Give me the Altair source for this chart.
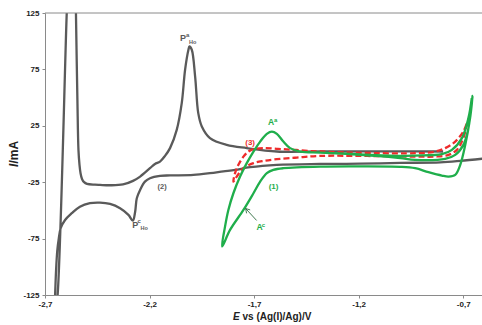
import altair as alt
import pandas as pd

# Curve (2): holmium CV (gray), in scan order
gray_E = [-0.609, -0.714, -0.810, -1.001, -1.193, -1.384, -1.591, -1.719, -1.791, -1.847,
          -1.911, -1.990, -2.102, -2.150, -2.198, -2.222, -2.245, -2.261, -2.269, -2.280,
          -2.301, -2.341, -2.389, -2.437, -2.485, -2.533, -2.572, -2.604, -2.625, -2.635,
          -2.641, -2.647, -2.652, -2.656,
          -2.650, -2.640, -2.596, -2.592,
          -2.553, -2.552, -2.545, -2.540, -2.535, -2.530, -2.523, -2.513, -2.499, -2.461,
          -2.437, -2.389, -2.327, -2.279, -2.245, -2.198, -2.174, -2.150, -2.126, -2.102,
          -2.070, -2.046, -2.030, -2.014, -2.009, -1.998, -1.982, -1.967, -1.950, -1.911,
          -1.831, -1.735, -1.591, -1.384, -1.001, -0.796]
gray_I = [-4.2, -6.1, -7.4, -7.9, -8.6, -8.8, -9.6, -11.7, -14.1, -15.4,
          -17.0, -18.5, -19.0, -19.4, -21.5, -24.5, -31.8, -39.2, -51.4, -59.1,
          -54.0, -48.1, -44.3, -43.1, -43.6, -46.7, -52.5, -58.5, -65.8, -76.2,
          -85.1, -102.8, -126.0, -140.0,
          -140.0, -126.0, 125.0, 140.0,
          140.0, 125.0, 48.0, 3.7, -9.6, -17.0, -22.1, -25.0, -26.5, -27.2,
          -27.4, -27.7, -27.0, -23.8, -20.0, -12.6, -8.8, -6.7, -1.7, 5.2,
          21.4, 45.1, 74.7, 92.4, 95.4, 92.4, 68.7, 36.2, 24.4, 14.1,
          8.1, 5.2, 2.2, 2.2, 2.4, 2.2]

# Curve (1): green CV
green_E = [-1.250, -1.120, -1.001, -0.930, -0.786, -0.738, -0.699, -0.675, -0.655,
           -0.667, -0.690, -0.714, -0.738, -0.770, -0.802, -0.866, -0.930, -1.001,
           -1.193, -1.384, -1.560, -1.608, -1.639, -1.671, -1.703, -1.751, -1.815, -1.853,
           -1.839, -1.823, -1.799, -1.767, -1.735, -1.703, -1.671, -1.639, -1.615, -1.591,
           -1.560, -1.528, -1.480, -1.384, -1.193, -1.001, -0.930, -0.802, -0.754, -0.706,
           -0.675, -0.659]
green_I = [0.0, -1.6, -3.6, -5.2, -4.3, -0.8, 8.1, 22.9, 51.6,
           31.8, 8.1, -9.6, -18.5, -20.0, -19.1, -16.1, -12.6, -11.4,
           -11.0, -11.2, -12.6, -14.1, -17.0, -24.5, -34.8, -49.6, -67.3, -82.0,
           -64.4, -49.6, -34.8, -20.0, -8.1, 2.2, 11.0, 17.9, 19.9, 17.9,
           11.0, 5.2, 2.2, 1.3, -0.3, -1.7, -1.4, -0.2, 3.7, 14.1,
           31.8, 49.6]

# Curve (3): red dashed CV
red_E = [-0.682, -0.690, -0.706, -0.730, -0.770, -0.834, -0.930, -1.384, -1.496, -1.591,
         -1.655, -1.703, -1.751, -1.783, -1.799,
         -1.791, -1.775, -1.751, -1.727, -1.703, -1.655, -1.591, -1.512, -1.384, -0.930,
         -0.834, -0.786, -0.738, -0.699, -0.682]
red_I = [27.4, 19.9, 11.0, 3.7, -0.8, -2.3, -2.3, -1.7, -3.2, -4.6,
         -6.1, -8.1, -12.6, -20.0, -24.5,
         -17.0, -9.6, -2.3, 2.2, 4.3, 5.2, 4.6, 3.7, 2.2, 0.7,
         2.2, 5.2, 11.0, 19.9, 27.4]

x_ticks = [-2.7, -2.2, -1.7, -1.2, -0.7]
y_ticks = [125, 75, 25, -25, -75, -125]

GRAY = "#5a5a5a"
GREEN = "#1fae4b"
RED = "#ee2b2b"
AXIS = "#8a8a8a"
FONT = "Liberation Sans"

# Peak / curve annotations
label_text = ["P", "a", "Ho", "P", "c", "Ho", "(2)", "A", "a", "(3)", "(1)", "A", "c"]
label_E = [-2.040, -2.018, -1.994, -2.268, -2.250, -2.226, -2.140, -1.619, -1.597,
           -1.719, -1.607, -1.674, -1.655]
label_I = [103.1, 105.3, 99.5, -62.5, -59.8, -65.6, -29.2, 28.1, 30.3,
           9.4, -29.2, -65.1, -62.5]
label_color = [GRAY, GRAY, GRAY, GRAY, GRAY, GRAY, GRAY, GREEN, GREEN,
               RED, GREEN, GREEN, GREEN]
label_size = [9, 6, 5.5, 9, 6, 5.5, 7.5, 8.5, 6, 8, 8, 8.5, 6]

# Arrow pointing at the A^c wave
arrow_E = [-1.688, -1.7359, -1.7187]
arrow_I = [-58.9, -52.6, -49.6]
arrow_tip_E = -1.7406
arrow_tip_I = -48.3


def curve(E, I, name):
    return pd.DataFrame({"E": E, "I": I, "order": range(len(E)), "curve": name})


x_scale = alt.Scale(domain=[-2.7, -0.61], nice=False, zero=False)
y_scale = alt.Scale(domain=[-125, 125], nice=False, zero=False)

x_axis = alt.Axis(values=x_ticks, title=None, grid=False,
                  labelExpr="replace(toString(datum.value), '.', ',')",
                  labelFont=FONT, labelFontSize=8, labelFontWeight="bold",
                  labelColor="#222", domainColor=AXIS, tickColor=AXIS,
                  tickSize=3, labelPadding=2, labelFlush=False)
y_axis = alt.Axis(values=y_ticks, title=None, grid=False,
                  labelExpr="toString(datum.value)",
                  labelFont=FONT, labelFontSize=8, labelFontWeight="bold",
                  labelColor="#222", domainColor=AXIS, tickColor=AXIS,
                  tickSize=3, labelPadding=3, labelFlush=False)

X = alt.X("E:Q", scale=x_scale, axis=x_axis)
Y = alt.Y("I:Q", scale=y_scale, axis=y_axis)

gray_line = alt.Chart(curve(gray_E, gray_I, "2")).mark_line(
    color=GRAY, strokeWidth=2.3, clip=True, interpolate="catmull-rom"
).encode(x=X, y=Y, order="order:Q")

red_line = alt.Chart(curve(red_E, red_I, "3")).mark_line(
    color=RED, strokeWidth=2.3, strokeDash=[6, 3], clip=True, interpolate="catmull-rom"
).encode(x=X, y=Y, order="order:Q")

green_line = alt.Chart(curve(green_E, green_I, "1")).mark_line(
    color=GREEN, strokeWidth=2.3, clip=True, interpolate="catmull-rom"
).encode(x=X, y=Y, order="order:Q")

top_border = alt.Chart(pd.DataFrame({"I": [125]})).mark_rule(
    color=AXIS, strokeWidth=1
).encode(y=Y)

labels = alt.Chart(pd.DataFrame({
    "E": label_E, "I": label_I, "text": label_text,
    "color": label_color, "size": label_size,
})).mark_text(font=FONT, fontWeight="bold", baseline="middle", align="center").encode(
    x=X, y=Y,
    text="text:N",
    color=alt.Color("color:N", scale=None),
    size=alt.Size("size:Q", scale=None),
)

arrow_df = pd.DataFrame({
    "E": arrow_E, "I": arrow_I,
    "E2": [arrow_tip_E] * 3, "I2": [arrow_tip_I] * 3,
})
arrow = alt.Chart(arrow_df).mark_rule(color="#2e6b3e", strokeWidth=0.9).encode(
    x=X, y=Y, x2="E2:Q", y2="I2:Q",
)

one = pd.DataFrame({"k": [0]})
title_style = dict(font=FONT, fontWeight="bold", color="#222", baseline="middle", align="left")
x_title_E = alt.Chart(one).mark_text(text="E", fontStyle="italic", fontSize=10, **title_style).encode(
    x=alt.value(188), y=alt.value(304))
x_title_rest = alt.Chart(one).mark_text(text="vs (Ag(I)/Ag)/V", fontSize=10, **title_style).encode(
    x=alt.value(197.5), y=alt.value(304))
y_title_I = alt.Chart(one).mark_text(text="I", fontStyle="italic", fontSize=12, angle=270, **title_style).encode(
    x=alt.value(-31), y=alt.value(154))
y_title_rest = alt.Chart(one).mark_text(text="/mA", fontSize=12, angle=270, **title_style).encode(
    x=alt.value(-31), y=alt.value(150.5))

chart = alt.layer(
    gray_line, top_border, red_line, green_line, labels, arrow,
    x_title_E, x_title_rest, y_title_I, y_title_rest,
).properties(
    width=437, height=282,
    padding={"left": 45, "top": 13, "right": 0, "bottom": 30},
    autosize=alt.AutoSizeParams(type="none"),
    background="white",
).configure_view(stroke=None)

chart.save("out.html", embed_options={"renderer": "svg", "actions": False})
